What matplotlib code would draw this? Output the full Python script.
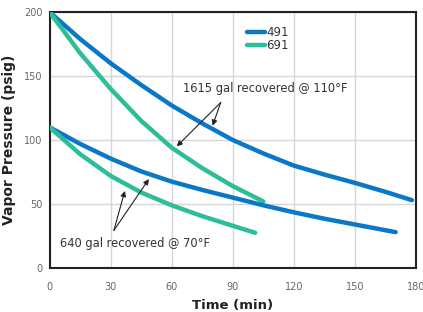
import matplotlib
matplotlib.use("Agg")
import matplotlib.pyplot as plt

plt.rcParams['font.family'] = ['DejaVu Sans']

# 491 / 691 at 1615 gal recovered @ 110°F
t_491_hi = [0, 15, 30, 45, 60, 75, 90, 105, 120, 135, 150, 165, 178]
v_491_hi = [200, 179, 160, 143, 127, 113, 100, 89.5, 80, 73, 66.5, 59.5, 53]
t_691_hi = [0, 15, 30, 45, 60, 75, 90, 105]
v_691_hi = [200, 168, 140, 115, 94, 78, 64, 52]

# 491 / 691 at 640 gal recovered @ 70°F
t_491_lo = [0, 15, 30, 45, 60, 75, 90, 105, 120, 135, 150, 170]
v_491_lo = [110, 97, 85.5, 75.5, 67.5, 61, 55, 49, 43.5, 38.5, 34, 28]
t_691_lo = [0, 15, 30, 45, 60, 75, 90, 101]
v_691_lo = [110, 89, 72, 59, 49, 40.5, 33, 27.5]

labels = ["491", "691"]
x_ticks = [0, 30, 60, 90, 120, 150, 180]
y_ticks = [0, 50, 100, 150, 200]
note_hi = "1615 gal recovered @ 110°F"
note_lo = "640 gal recovered @ 70°F"

blue = "#0a78c6"
green = "#2dbd98"

fig = plt.figure(figsize=(4.23, 3.12), dpi=100)
ax = fig.add_axes([49.5/423, 1-268/312, (416-49.5)/423, (268-12)/312])

lw = 3.2
kw = dict(lw=lw, solid_capstyle='round', solid_joinstyle='round', zorder=3)
l1, = ax.plot(t_491_hi, v_491_hi, color=blue, label=labels[0], **kw)
l2, = ax.plot(t_691_hi, v_691_hi, color=green, label=labels[1], **kw)
ax.plot(t_491_lo, v_491_lo, color=blue, **kw)
ax.plot(t_691_lo, v_691_lo, color=green, **kw)

ax.set_xlim(0, 180)
ax.set_ylim(0, 200)
ax.set_xticks(x_ticks)
ax.set_yticks(y_ticks)
ax.grid(True, color="#d6d6d6", lw=1)
ax.set_axisbelow(True)
ax.tick_params(length=0, labelsize=7, labelcolor="#666666")
ax.tick_params(axis='x', pad=10)
ax.tick_params(axis='y', pad=5)
for s in ax.spines.values():
    s.set_color("#222222")
    s.set_linewidth(1.5)

ax.set_xlabel("Time (min)", fontsize=9.5, fontweight='bold', color="#222222")
ax.set_ylabel("Vapor Pressure (psig)", fontsize=10, fontweight='bold', color="#222222")
ax.xaxis.set_label_coords((233 - 49.5) / 366.5, (268 - 299) / 256)
ax.yaxis.set_label_coords((16 - 49.5) / 366.5, 0.5)

leg = ax.legend(handles=[l1, l2], loc='upper left', bbox_to_anchor=(0.539, 0.945),
                frameon=False, fontsize=8.5, handlelength=1.5, handletextpad=0.1,
                labelspacing=0.0, borderpad=0, borderaxespad=0)
for t in leg.get_texts():
    t.set_color("#333333")

arrow = dict(arrowstyle='-|>', color="#222222", lw=0.8, mutation_scale=8, shrinkA=0, shrinkB=0)
ax.text(65.4, 140.5, note_hi, fontsize=8.3, color="#333333", ha='left', va='center')
ax.annotate("", xy=(62.5, 95), xytext=(84.1, 129.3), arrowprops=arrow)
ax.annotate("", xy=(80.1, 111.2), xytext=(84.1, 129.3), arrowprops=arrow)

ax.text(5.1, 19.3, note_lo, fontsize=8.3, color="#333333", ha='left', va='center')
ax.annotate("", xy=(37, 60.2), xytext=(31.6, 29.3), arrowprops=arrow)
ax.annotate("", xy=(48.8, 69.5), xytext=(31.6, 29.3), arrowprops=arrow)

fig.savefig("out.png", dpi=100)
